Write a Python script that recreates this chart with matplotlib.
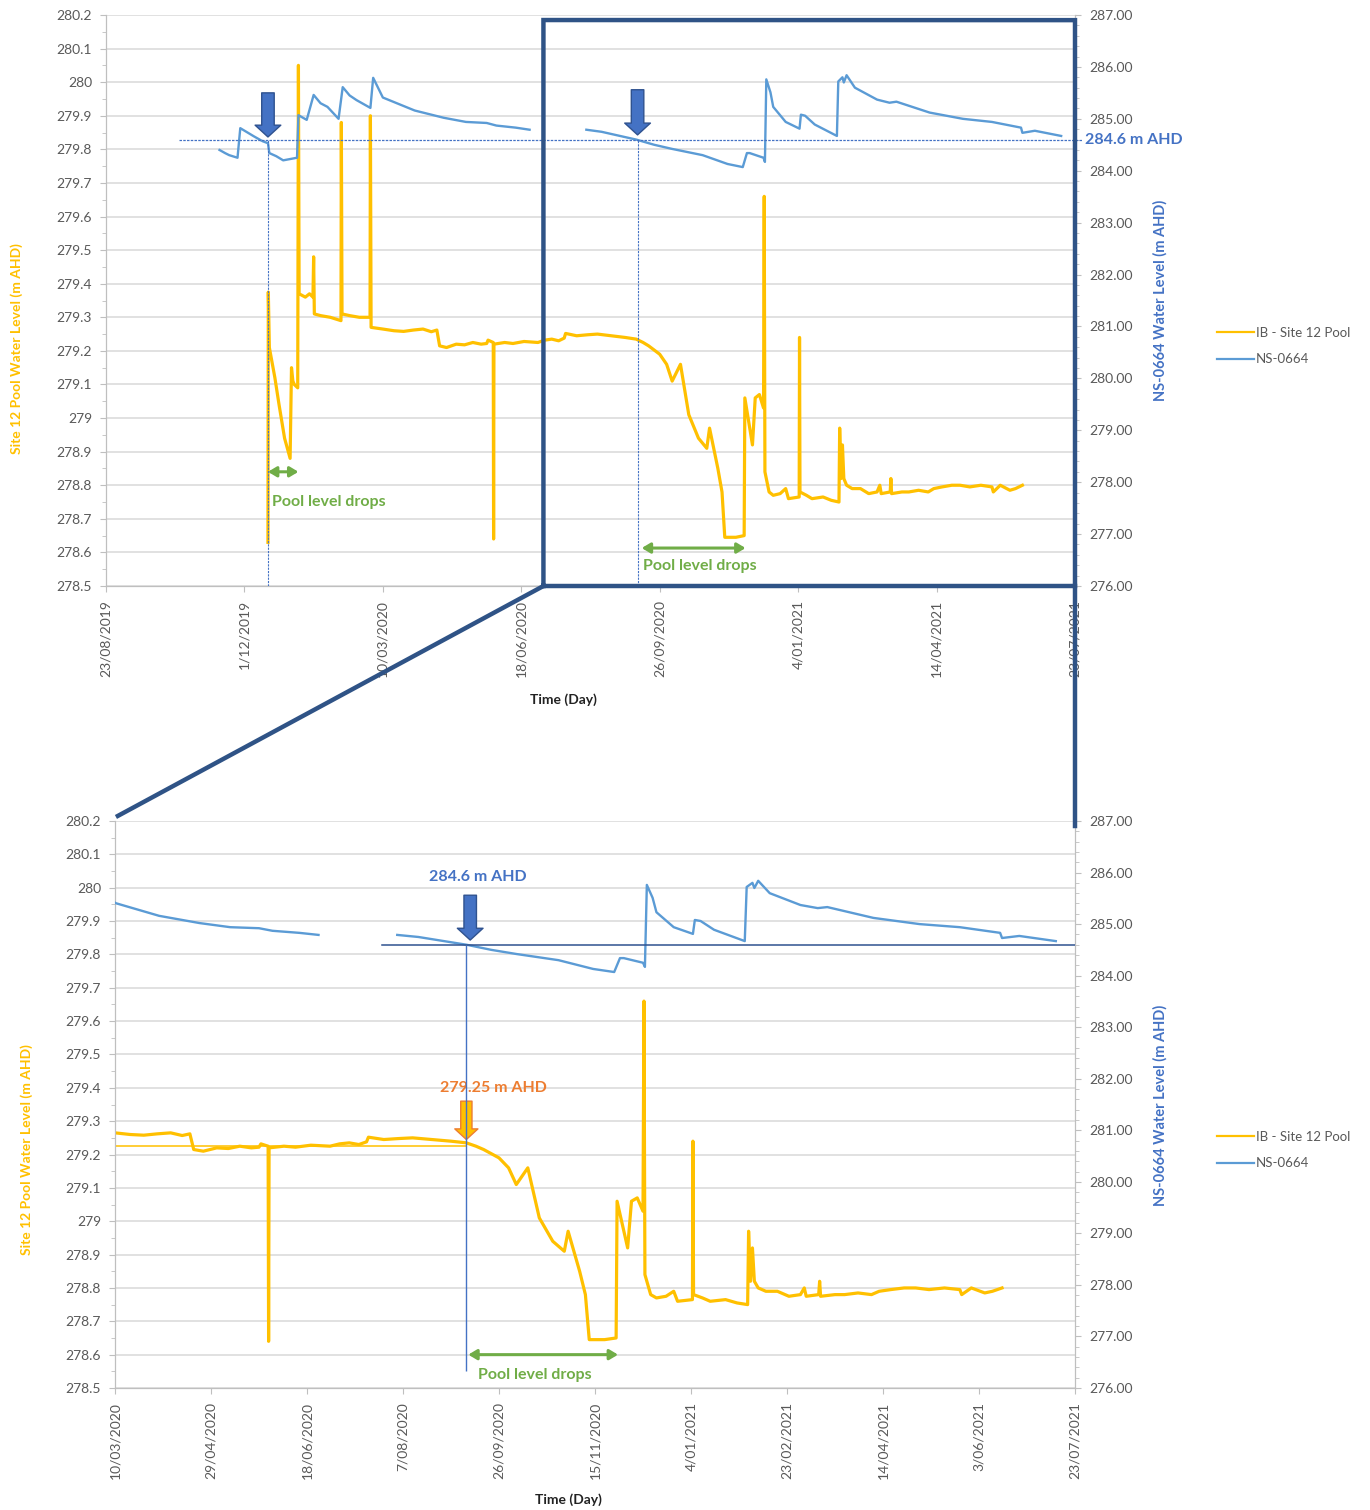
import matplotlib
matplotlib.use("Agg")
import matplotlib.pyplot as plt
import matplotlib.dates as mdates
from matplotlib.lines import Line2D
from matplotlib.ticker import MultipleLocator, FixedLocator
import numpy as np
import pandas as pd

plt.rcParams['font.family'] = ['Lato', 'DejaVu Sans']

# ---------------- data ----------------
POOL_DATES = [
    "2019-12-18 00:00", "2019-12-18 06:00", "2019-12-19", "2019-12-23",
    "2019-12-26", "2019-12-30", "2020-01-03", "2020-01-04", "2020-01-05",
    "2020-01-06", "2020-01-08 12:00", "2020-01-09", "2020-01-09 12:00",
    "2020-01-14", "2020-01-17", "2020-01-19 12:00", "2020-01-20",
    "2020-01-20 12:00", "2020-01-25", "2020-02-01", "2020-02-08 18:00",
    "2020-02-09", "2020-02-09 12:00", "2020-02-15", "2020-02-22",
    "2020-02-29 18:00", "2020-03-01", "2020-03-01 12:00", "2020-03-10",
    "2020-03-18", "2020-03-25", "2020-04-01", "2020-04-08", "2020-04-14",
    "2020-04-18", "2020-04-20", "2020-04-25", "2020-05-02", "2020-05-08",
    "2020-05-14", "2020-05-20", "2020-05-24", "2020-05-25", "2020-05-28 18:00",
    "2020-05-29", "2020-05-29 06:00", "2020-06-06", "2020-06-12", "2020-06-20",
    "2020-06-30", "2020-07-05", "2020-07-10", "2020-07-15", "2020-07-19",
    "2020-07-20", "2020-07-28", "2020-08-05", "2020-08-12", "2020-08-22",
    "2020-09-01", "2020-09-09", "2020-09-14", "2020-09-18", "2020-09-26",
    "2020-10-01", "2020-10-05", "2020-10-11", "2020-10-17", "2020-10-21",
    "2020-10-24", "2020-10-30", "2020-11-01", "2020-11-07", "2020-11-10",
    "2020-11-12", "2020-11-20", "2020-11-26", "2020-11-26 12:00",
    "2020-12-02", "2020-12-04", "2020-12-07", "2020-12-10", "2020-12-10 12:00",
    "2020-12-11", "2020-12-14", "2020-12-17", "2020-12-22", "2020-12-26",
    "2020-12-28", "2021-01-04 18:00", "2021-01-05", "2021-01-05 08:00",
    "2021-01-10", "2021-01-14", "2021-01-22", "2021-01-28", "2021-02-02 12:00",
    "2021-02-03", "2021-02-04", "2021-02-05", "2021-02-06", "2021-02-08",
    "2021-02-12", "2021-02-18", "2021-02-24", "2021-03-02", "2021-03-04",
    "2021-03-05", "2021-03-11 12:00", "2021-03-12", "2021-03-12 12:00",
    "2021-03-20", "2021-03-25", "2021-04-01", "2021-04-08", "2021-04-12",
    "2021-04-18", "2021-04-25", "2021-05-01", "2021-05-08", "2021-05-16",
    "2021-05-24", "2021-05-25", "2021-05-30", "2021-06-06", "2021-06-10",
    "2021-06-15",
]
POOL_LEVEL = [
    278.63, 279.375, 279.21, 279.12,
    279.04, 278.94, 278.88, 279.15, 279.11,
    279.10, 279.09, 280.05, 279.37,
    279.36, 279.37, 279.36, 279.48,
    279.31, 279.305, 279.30, 279.29,
    279.88, 279.31, 279.305, 279.30,
    279.30, 279.90, 279.27, 279.265,
    279.26, 279.258, 279.262, 279.265, 279.257,
    279.262, 279.215, 279.21, 279.22, 279.218,
    279.225, 279.22, 279.222, 279.232, 279.225,
    278.64, 279.22, 279.225, 279.222, 279.228,
    279.225, 279.232, 279.235, 279.23, 279.238,
    279.252, 279.245, 279.248, 279.25, 279.245,
    279.24, 279.235, 279.225, 279.215, 279.19,
    279.16, 279.11, 279.16, 279.01, 278.97,
    278.94, 278.91, 278.97, 278.85, 278.78,
    278.645, 278.645, 278.65, 279.06,
    278.92, 279.06, 279.07, 279.03, 279.66,
    278.84, 278.78, 278.77, 278.775, 278.79,
    278.76, 278.765, 279.24, 278.78,
    278.77, 278.76, 278.765, 278.755, 278.75,
    278.97, 278.82, 278.92, 278.82, 278.80,
    278.79, 278.79, 278.775, 278.78, 278.80,
    278.775, 278.78, 278.82, 278.775,
    278.78, 278.78, 278.785, 278.78, 278.79,
    278.795, 278.80, 278.80, 278.795, 278.80,
    278.795, 278.78, 278.80, 278.785, 278.79,
    278.80,
]

NS_DATES = [
    "2019-11-13", "2019-11-17", "2019-11-20", "2019-11-26", "2019-11-28",
    "2019-12-03", "2019-12-08", "2019-12-14", "2019-12-18", "2019-12-19",
    "2019-12-24", "2019-12-29", "2020-01-08", "2020-01-09", "2020-01-15",
    "2020-01-20", "2020-01-25", "2020-01-30", "2020-02-07", "2020-02-10",
    "2020-02-15", "2020-02-20", "2020-03-01", "2020-03-03", "2020-03-10",
    "2020-04-02", "2020-04-23", "2020-05-09", "2020-05-24", "2020-05-31",
    "2020-06-14", "2020-06-24", "2020-07-15", "2020-08-04", "2020-08-15",
    "2020-08-25", "2020-09-09", "2020-09-22", "2020-10-05", "2020-10-27",
    "2020-11-14", "2020-11-25", "2020-11-28", "2020-11-30", "2020-12-10",
    "2020-12-11", "2020-12-12", "2020-12-15", "2020-12-17", "2020-12-26",
    "2021-01-05", "2021-01-06", "2021-01-09", "2021-01-16", "2021-02-01",
    "2021-02-02", "2021-02-05", "2021-02-06", "2021-02-08", "2021-02-14",
    "2021-03-02", "2021-03-11", "2021-03-16", "2021-04-09", "2021-05-03",
    "2021-05-24", "2021-06-14", "2021-06-15", "2021-06-24", "2021-07-13",
]
NS_LEVEL = [
    284.40, 284.34, 284.30, 284.25, 284.82,
    284.74, 284.66, 284.57, 284.53, 284.34,
    284.28, 284.20, 284.25, 285.07, 284.98,
    285.46, 285.30, 285.23, 285.00, 285.61,
    285.45, 285.36, 285.21, 285.79, 285.41,
    285.16, 285.02, 284.94, 284.92, 284.87,
    284.83, 284.79, np.nan, 284.79, 284.75,
    284.69, 284.60, 284.50, 284.42, 284.30,
    284.13, 284.07, 284.34, 284.34, 284.25,
    284.17, 285.76, 285.51, 285.23, 284.94,
    284.81, 285.08, 285.06, 284.89, 284.67,
    285.72, 285.80, 285.70, 285.84, 285.60,
    285.37, 285.31, 285.33, 285.12, 285.00,
    284.94, 284.83, 284.73, 284.77, 284.67,
]

TOP_XTICKS = ["23/08/2019", "1/12/2019", "10/03/2020", "18/06/2020",
              "26/09/2020", "4/01/2021", "14/04/2021", "23/07/2021"]
BOTTOM_XTICKS = ["10/03/2020", "29/04/2020", "18/06/2020", "7/08/2020",
                 "26/09/2020", "15/11/2020", "4/01/2021", "23/02/2021",
                 "14/04/2021", "3/06/2021", "23/07/2021"]
POOL_TICKS = [278.5, 278.6, 278.7, 278.8, 278.9, 279.0, 279.1, 279.2,
              279.3, 279.4, 279.5, 279.6, 279.7, 279.8, 279.9, 280.0,
              280.1, 280.2]
NS_TICKS = [276, 277, 278, 279, 280, 281, 282, 283, 284, 285, 286, 287]

NS_MARK = 284.6
POOL_MARK = 279.225

# ---------------- styling ----------------
YELLOW = "#FFC000"
BLUE = "#5B9BD5"
ARROW_BLUE = "#4472C4"
GREEN = "#70AD47"
ORANGE = "#ED7D31"
BOX = "#2F5386"
GREY_TXT = "#595959"
GRID = "#D9D9D9"

W, H = 1370, 1510
fig = plt.figure(figsize=(W / 100, H / 100), dpi=100)


def fx(px):
    return px / W


def fy(py):
    return 1 - py / H


pool_t = pd.to_datetime(POOL_DATES, format="ISO8601")
ns_t = pd.to_datetime(NS_DATES, format="ISO8601")


def parse_tick(s):
    return pd.to_datetime(s, format="%d/%m/%Y")


def left_to_right(v):
    return 276 + (v - 278.5) * 11 / 1.7


def setup_panel(rect, xticks):
    ax = fig.add_axes(rect)
    ax2 = ax.twinx()
    ticks = [parse_tick(s) for s in xticks]
    ax.set_xlim(ticks[0], ticks[-1])
    ax.set_ylim(278.5, 280.2)
    ax2.set_ylim(276, 287)
    ax.xaxis.set_major_locator(FixedLocator(mdates.date2num(ticks)))
    ax.set_xticklabels(xticks, rotation=90, fontsize=10, color=GREY_TXT)
    ax.set_yticks(POOL_TICKS)
    ax.set_yticklabels([f"{round(v, 1):g}" for v in POOL_TICKS],
                       fontsize=10, color=GREY_TXT)
    ax.yaxis.set_minor_locator(MultipleLocator(0.05))
    ax2.set_yticks(NS_TICKS)
    ax2.set_yticklabels([f"{v:.2f}" for v in NS_TICKS], fontsize=10,
                        color=GREY_TXT)
    ax2.yaxis.set_minor_locator(MultipleLocator(0.2))
    ax.grid(axis="y", color=GRID, lw=1.1)
    ax.set_axisbelow(True)
    for a in (ax, ax2):
        a.spines["top"].set_visible(False)
        for s in ("left", "right", "bottom"):
            a.spines[s].set_color("#BFBFBF")
        a.tick_params(which="both", color="#BFBFBF", direction="out")
        a.tick_params(which="major", length=4, pad=6)
        a.tick_params(which="minor", length=3)
    ax.tick_params(axis="x", pad=6)
    ax.plot(pool_t, POOL_LEVEL, color=YELLOW, lw=2.3, zorder=3,
            solid_joinstyle="round")
    ax2.plot(ns_t, NS_LEVEL, color=BLUE, lw=1.7, zorder=3,
             solid_joinstyle="round")
    return ax, ax2


def xfrac(ax, d):
    x0, x1 = ax.get_xlim()
    return (mdates.date2num(pd.to_datetime(d)) - x0) / (x1 - x0)


def block_arrow(ax, d, y_tail, y_tip, fc, ec, scale=1.0):
    d = pd.to_datetime(d)
    ax.annotate("", xy=(d, y_tip), xytext=(d, y_tail),
                arrowprops=dict(
                    arrowstyle=f"simple,head_width={1.85 * scale},"
                               f"head_length={0.85 * scale},"
                               f"tail_width={0.9 * scale}",
                    fc=fc, ec=ec, lw=1, shrinkA=0, shrinkB=0,
                    mutation_scale=10),
                zorder=6)


def span_arrow(ax, d0, d1, y):
    ax.annotate("", xy=(pd.to_datetime(d1), y), xytext=(pd.to_datetime(d0), y),
                arrowprops=dict(arrowstyle="<|-|>,head_width=0.3,head_length=0.5",
                                color=GREEN, lw=2.2, shrinkA=0, shrinkB=0,
                                mutation_scale=10),
                zorder=6)


# ---------------- top panel ----------------
axT, axT2 = setup_panel([fx(106), fy(586), fx(1075 - 106), (586 - 15) / H],
                        TOP_XTICKS)

axT2.axhline(NS_MARK, xmin=xfrac(axT2, "2019-10-15"), xmax=1.01,
             color=ARROW_BLUE, lw=0.9, ls=(0, (2, 1)), clip_on=False, zorder=4)
for d in ("2019-12-18", "2020-09-10"):
    axT2.vlines(pd.to_datetime(d), 276, NS_MARK, color=ARROW_BLUE, lw=0.8,
                ls=(0, (2, 1)), zorder=4)
block_arrow(axT2, "2019-12-18", 285.50, 284.65, ARROW_BLUE, "#2F528F")
block_arrow(axT2, "2020-09-10", 285.56, 284.69, ARROW_BLUE, "#2F528F")

span_arrow(axT, "2019-12-18", "2020-01-09", 278.84)
span_arrow(axT, "2020-09-13", "2020-11-27", 278.613)
axT.text(pd.to_datetime("2019-12-21"), 278.75, "Pool level drops",
         color=GREEN, fontsize=11.5, fontweight="bold", va="center", zorder=7)
axT.text(pd.to_datetime("2020-09-14"), 278.56, "Pool level drops",
         color=GREEN, fontsize=11.5, fontweight="bold", va="center", zorder=7)

axT2.text(1.01, NS_MARK, "284.6 m AHD", transform=axT2.get_yaxis_transform(),
          color=ARROW_BLUE, fontsize=11.5, fontweight="bold", va="center",
          ha="left", zorder=7, bbox=dict(fc="white", ec="none", pad=1))

# ---------------- bottom panel ----------------
axB, axB2 = setup_panel([fx(115), fy(1388), fx(1075 - 115), (1388 - 821) / H],
                        BOTTOM_XTICKS)

axB2.axhline(NS_MARK, xmin=xfrac(axB2, "2020-07-27"), xmax=1.0,
             color="#2F528F", lw=1.1, zorder=4)
axB.axhline(POOL_MARK, xmin=0, xmax=xfrac(axB, "2020-09-09"),
            color=YELLOW, lw=1.1, zorder=4)
axB2.vlines(pd.to_datetime("2020-09-09"), left_to_right(278.55), NS_MARK,
            color=ARROW_BLUE, lw=1.0, zorder=4)
block_arrow(axB2, "2020-09-11", 285.56, 284.69, ARROW_BLUE, "#2F528F")
block_arrow(axB, "2020-09-09", 279.36, 279.245, YELLOW, ORANGE, scale=0.9)
span_arrow(axB, "2020-09-10", "2020-11-27", 278.60)
axB.text(pd.to_datetime("2020-09-15"), 278.54, "Pool level drops",
         color=GREEN, fontsize=11.5, fontweight="bold", va="center", zorder=7)
axB2.text(pd.to_datetime("2020-09-15"), 285.91, "284.6 m AHD",
          color=ARROW_BLUE, fontsize=11.5, fontweight="bold", va="center",
          ha="center", zorder=7)
axB.text(pd.to_datetime("2020-09-23"), 279.40, "279.25 m AHD",
         color=ORANGE, fontsize=11.5, fontweight="bold", va="center",
         ha="center", zorder=7)

# ---------------- axis titles and legends ----------------
for (lx, ly), (rx, ry), (tx, ty), leg_y in (
        ((17, 349), (1160, 300), (563, 700), 346),
        ((27, 1150), (1160, 1105), (568, 1500), 1150)):
    fig.text(fx(lx), fy(ly), "Site 12 Pool Water Level (m AHD)", rotation=90,
             color=YELLOW, fontsize=10, fontweight="bold", ha="center",
             va="center")
    fig.text(fx(rx), fy(ry), "NS-0664 Water Level (m AHD)", rotation=90,
             color=ARROW_BLUE, fontsize=10.5, fontweight="bold", ha="center",
             va="center")
    fig.text(fx(tx), fy(ty), "Time (Day)", color="#222222", fontsize=10,
             fontweight="bold", ha="center", va="center")
    handles = [Line2D([], [], color=YELLOW, lw=1.6),
               Line2D([], [], color=BLUE, lw=1.6)]
    fig.legend(handles, ["IB - Site 12 Pool", "NS-0664"], loc="center left",
               bbox_to_anchor=(fx(1205), fy(leg_y)), frameon=False,
               fontsize=9.5, labelcolor=GREY_TXT, handlelength=2.8,
               handletextpad=0.15, labelspacing=1.1)

# ---------------- zoom box linking the panels ----------------
to_fig = fig.transFigure.inverted()


def fig_pt(ax, x, y, coords="data"):
    tr = ax.transData if coords == "data" else ax.transAxes
    return to_fig.transform(tr.transform((x, y)))


box_l = mdates.date2num(pd.to_datetime("2020-07-04"))
p_bl = fig_pt(axT, box_l, 278.5)
p_tl = fig_pt(axT, box_l, 280.185)
p_tr = fig_pt(axT, 1.0, 0.991, "axes")
p_br = fig_pt(axT, 1.0, 0.0, "axes")
q_l = fig_pt(axB, 0.003, 1.009, "axes")
q_r = fig_pt(axB, 1.0, 0.991, "axes")

box_style = dict(color=BOX, lw=3.2, transform=fig.transFigure,
                 solid_capstyle="projecting", solid_joinstyle="miter",
                 zorder=10)
fig.add_artist(Line2D([p_bl[0], p_tl[0], p_tr[0], p_br[0], p_bl[0]],
                      [p_bl[1], p_tl[1], p_tr[1], p_br[1], p_bl[1]],
                      **box_style))
fig.add_artist(Line2D([p_bl[0], q_l[0]], [p_bl[1], q_l[1]], **box_style))
fig.add_artist(Line2D([p_br[0], q_r[0]], [p_br[1], q_r[1]], **box_style))

fig.savefig("out.png", dpi=100)
